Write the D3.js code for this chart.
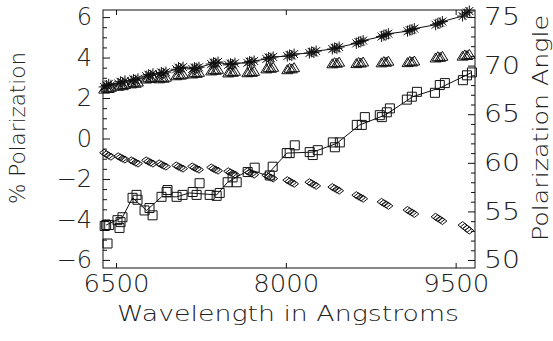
<!DOCTYPE html>
<html><head><meta charset="utf-8">
<script src="https://cdn.jsdelivr.net/npm/d3@7/dist/d3.min.js"></script>
<style>
body{margin:0;background:#fff;}
text{font-family:"DejaVu Sans",sans-serif;font-weight:200;fill:#222;}
</style></head>
<body><svg id="c" width="553" height="341"></svg>
<script>
// ---------- data ----------
const xTicks = [6500, 8000, 9500];
const leftTicks = [-6, -4, -2, 0, 2, 4, 6];
const rightTicks = [50, 55, 60, 65, 70, 75];

const starWave = [6395,6415,6435,6455, 6519,6539,6559,6579, 6634,6654,6674,6694, 6766,6786,6806,6826,
 6881,6901,6921,6941, 7032,7052,7072,7092, 7173,7193,7213,7233, 7341,7361,7381,7401,
 7491,7511,7531,7551, 7660,7680,7700,7720, 7828,7848,7868,7888, 8013,8033,8053,8073,
 8208,8228,8248,8268, 8411,8431,8451,8471, 8623,8643,8663,8683, 8846,8866,8886,8906,
 9075,9095,9115,9135, 9323,9343,9363,9383, 9561,9581,9601,9621];
const starVal = [2.55,2.62,2.68,2.63, 2.72,2.80,2.76,2.85, 2.84,2.92,2.88,2.95, 3.08,3.15,3.12,3.20,
 3.18,3.26,3.22,3.28, 3.42,3.50,3.46,3.53, 3.44,3.50,3.47,3.52, 3.68,3.75,3.72,3.78,
 3.64,3.70,3.66,3.72, 3.74,3.80,3.77,3.83, 3.93,4.00,3.97,4.03, 4.07,4.13,4.10,4.17,
 4.22,4.28,4.25,4.32, 4.42,4.48,4.45,4.52, 4.70,4.76,4.79,4.84, 5.04,5.10,5.13,5.18,
 5.30,5.35,5.38,5.43, 5.62,5.68,5.72,5.78, 6.05,6.15,6.22,6.30];

const triWave = [6395,6415,6435,6455, 6519,6539,6559,6579, 6634,6654,6674,6694, 6766,6786,6806,6826,
 6881,6901,6921,6941, 7032,7052,7072,7092, 7173,7193,7213,7233, 7341,7361,7381,7401,
 7491,7511,7531,7551, 7660,7680,7700,7720, 7828,7848,7868,7888, 8013,8033,8053,8073,
 8411,8431,8451,8471, 8623,8643,8663,8683, 8846,8866,8886,8906,
 9075,9095,9115,9135, 9323,9343,9363,9383, 9561,9581,9601,9621];
const triVal = [2.44,2.50,2.47,2.53, 2.58,2.64,2.61,2.67, 2.70,2.76,2.73,2.79, 2.94,3.00,2.97,3.03,
 2.95,3.01,2.98,3.03, 3.10,3.16,3.13,3.18, 3.19,3.25,3.22,3.27, 3.34,3.40,3.37,3.42,
 3.24,3.30,3.27,3.32, 3.25,3.30,3.27,3.32, 3.44,3.50,3.47,3.52, 3.40,3.47,3.44,3.50,
 3.69,3.75,3.72,3.77, 3.70,3.76,3.73,3.78, 3.74,3.80,3.77,3.82,
 3.75,3.81,3.78,3.83, 3.98,4.04,4.01,4.06, 4.07,4.13,4.10,4.16];

const diaWave = starWave;
const diaVal = [-0.70,-0.78,-0.84,-0.90, -0.88,-0.94,-0.99,-1.04, -1.08,-1.13,-1.19,-1.24, -1.08,-1.14,-1.19,-1.24,
 -1.23,-1.29,-1.34,-1.39, -1.33,-1.39,-1.44,-1.49, -1.38,-1.44,-1.49,-1.54, -1.43,-1.49,-1.54,-1.59,
 -1.62,-1.68,-1.73,-1.78, -1.62,-1.68,-1.73,-1.79, -1.82,-1.88,-1.93,-1.98, -2.06,-2.12,-2.18,-2.24,
 -2.16,-2.22,-2.28,-2.34, -2.40,-2.46,-2.52,-2.58, -2.80,-2.86,-2.92,-2.98, -3.13,-3.20,-3.26,-3.33,
 -3.53,-3.60,-3.66,-3.73, -3.87,-3.94,-4.01,-4.08, -4.28,-4.37,-4.46,-4.55];

// polarization angle (right axis)
const sqWave = [6400,6413,6425,6440,6513,6531,6540,6557,6646,6681,6690,6752,6796,6823,6902,6947,6955,7035,7088,
 7177,7212,7238,7327,7389,7416,7486,7530,7566,7663,7725,7858,7884,8008,8034,8079,8211,8238,8282,
 8415,8433,8477,8627,8671,8698,8830,8848,8892,8919,9069,9113,9158,9317,9360,9405,9564,9600,9644];
const sqVal = [53.5,53.6,51.7,53.6,54.1,53.3,53.9,54.4,56.4,56.7,56.2,55.1,55.35,54.6,56.5,57.0,57.2,56.5,56.7,
 57.0,56.7,57.9,56.7,56.6,56.9,58.0,58.5,58.0,59.05,59.5,58.7,59.6,61.0,61.0,61.8,61.1,60.8,61.3,
 62.1,61.6,62.1,63.9,63.9,64.7,64.9,64.7,65.2,65.6,66.5,66.8,67.3,67.2,68.0,68.2,68.5,69.0,69.3];
const sqFitWave = [6413,6557,6646,6770,6902,7035,7150,7389,7486,7681,7831,8008,8238,8450,8653,8875,9122,9361,9644];
const sqFitVal = [53.6,54.4,56.4,55.1,56.5,56.5,56.9,56.7,58.0,59.3,58.7,61.0,61.1,62.0,63.9,64.9,66.8,67.7,69.3];

// ---------- layout ----------
const svg = d3.select("#c");
const L = 103, R = 475, T = 10, B = 268;
const x = d3.scaleLinear().domain([6385, 9671]).range([L, R]);
const yL = d3.scaleLinear().domain([-6.4, 6.35]).range([B, T]);
const yR = d3.scaleLinear().domain([49.18, 75.72]).range([B, T]);
const ink = "#111";

// frame
svg.append("rect").attr("x", L).attr("y", T).attr("width", R - L).attr("height", B - T)
  .attr("fill", "none").attr("stroke", ink).attr("stroke-width", 1);

// axes (ticks drawn inward)
const gB = svg.append("g").attr("transform", `translate(0,${B})`)
  .call(d3.axisBottom(x).tickValues(xTicks).tickSize(-5).tickPadding(7).tickFormat(d3.format("d")));
gB.selectAll("text").attr("textLength", 66).attr("lengthAdjust", "spacingAndGlyphs");
svg.append("g").attr("transform", `translate(0,${T})`)
  .call(d3.axisTop(x).tickValues(xTicks).tickSize(-5).tickFormat(""));
const minorL = d3.range(-12, 13).map(d => d / 2).filter(d => d % 2 !== 0);
svg.append("g").attr("transform", `translate(${L},0)`)
  .call(d3.axisLeft(yL).tickValues(minorL).tickSize(-4).tickFormat(""));
const gL = svg.append("g").attr("transform", `translate(${L},0)`)
  .call(d3.axisLeft(yL).tickValues(leftTicks).tickSize(-7).tickPadding(11)
    .tickFormat(d => d < 0 ? "\u2212" + Math.abs(d) : d));
const minorR = d3.range(50, 76).filter(d => d % 5 !== 0);
svg.append("g").attr("transform", `translate(${R},0)`)
  .call(d3.axisRight(yR).tickValues(minorR).tickSize(-4).tickFormat(""));
const gR = svg.append("g").attr("transform", `translate(${R},0)`)
  .call(d3.axisRight(yR).tickValues(rightTicks).tickSize(-7).tickPadding(9));
gR.selectAll("text").attr("textLength", 36).attr("lengthAdjust", "spacingAndGlyphs");
svg.selectAll(".domain").remove();
svg.selectAll(".tick line").attr("stroke", ink);
svg.selectAll(".tick text").attr("font-size", 24).attr("font-family", "DejaVu Sans")
  .attr("font-weight", 200).attr("fill", "#222");

// titles
svg.append("text").attr("x", 288).attr("y", 321).attr("text-anchor", "middle")
  .attr("font-size", 21).attr("textLength", 342).attr("lengthAdjust", "spacingAndGlyphs")
  .text("Wavelength in Angstroms");
svg.append("text").attr("transform", "translate(25,128) rotate(-90)").attr("text-anchor", "middle")
  .attr("font-size", 21).attr("textLength", 152).attr("lengthAdjust", "spacingAndGlyphs")
  .text("% Polarization");
svg.append("text").attr("transform", "translate(548,128) rotate(-90)").attr("text-anchor", "middle")
  .attr("font-size", 21).attr("textLength", 226).attr("lengthAdjust", "spacingAndGlyphs")
  .text("Polarization Angle");

const plot = svg.append("g");

// lines
const lineL = d3.line().x(d => x(d[0])).y(d => yL(d[1]));
const lineR = d3.line().x(d => x(d[0])).y(d => yR(d[1]));
plot.append("path").datum(d3.zip(starWave, starVal)).attr("d", lineL)
  .attr("fill", "none").attr("stroke", ink).attr("stroke-width", 1);
plot.append("path").datum(d3.zip(sqFitWave, sqFitVal)).attr("d", lineR)
  .attr("fill", "none").attr("stroke", ink).attr("stroke-width", 1);

// markers
const ast = "M-5.5,0H5.5M0,-5.5V5.5M-4,-4L4,4M-4,4L4,-4";
plot.append("g").selectAll("path").data(d3.zip(starWave, starVal)).join("path")
  .attr("transform", d => `translate(${x(d[0])},${yL(d[1])})`).attr("d", ast)
  .attr("stroke", ink).attr("stroke-width", 1).attr("fill", "none");
plot.append("g").selectAll("path").data(d3.zip(triWave, triVal)).join("path")
  .attr("transform", d => `translate(${x(d[0])},${yL(d[1])})`).attr("d", "M-5.5,4L5.5,4L0,-5Z")
  .attr("stroke", ink).attr("stroke-width", 1).attr("fill", "none");
plot.append("g").selectAll("path").data(d3.zip(diaWave, diaVal)).join("path")
  .attr("transform", d => `translate(${x(d[0])},${yL(d[1])})`).attr("d", "M-4.5,0L0,-3.5L4.5,0L0,3.5Z")
  .attr("stroke", ink).attr("stroke-width", 1).attr("fill", "none");
plot.append("g").selectAll("path").data(d3.zip(sqWave, sqVal)).join("path")
  .attr("transform", d => `translate(${x(d[0])},${yR(d[1])})`).attr("d", "M-4.5,-4.5H4.5V4.5H-4.5Z")
  .attr("stroke", ink).attr("stroke-width", 1).attr("fill", "none");
</script></body></html>
